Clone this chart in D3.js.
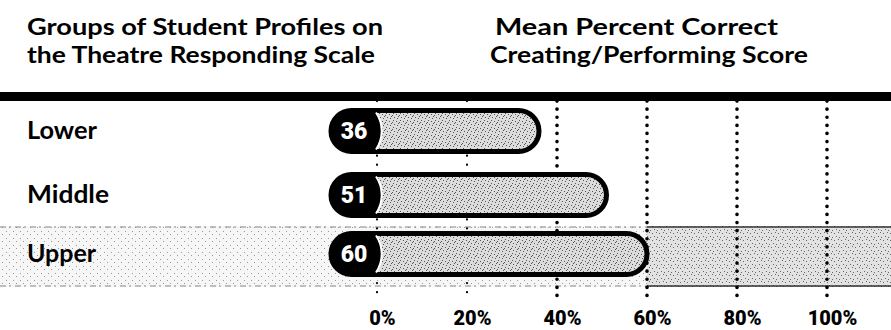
<!DOCTYPE html>
<html>
<head>
<meta charset="utf-8">
<script src="https://cdn.jsdelivr.net/npm/d3@7"></script>
<style>
  html, body { margin: 0; padding: 0; background: #fff; }
  svg { display: block; }
</style>
</head>
<body>
<svg id="chart" width="891" height="330"></svg>
<script>
const categories = ["Lower", "Middle", "Upper"];
const values = [36, 51, 60];
const tickValues = [0, 20, 40, 60, 80, 100];
const tickLabels = ["0%", "20%", "40%", "60%", "80%", "100%"];
const titleLeft = ["Groups of Student Profiles on", "the Theatre Responding Scale"];
const titleRight = ["Mean Percent Correct", "Creating/Performing Score"];

const svg = d3.select("#chart");
const W = 891, H = 330;
const FONT = "Lato, 'Open Sans', sans-serif";

const x = d3.scaleLinear().domain([0, 100]).range([377, 827]);
const y = d3.scaleOrdinal().domain(categories).range([131, 195, 254]);
const barH = 41;
const r = barH / 2;
const capLeft = x(0) - 46;

// texture patterns
const defs = svg.append("defs");
function stipple(id, bg, dots, col) {
  const p = defs.append("pattern").attr("id", id).attr("patternUnits", "userSpaceOnUse")
    .attr("width", 7).attr("height", 7);
  p.append("rect").attr("width", 7).attr("height", 7).attr("fill", bg);
  dots.forEach(d => p.append("rect").attr("x", d[0]).attr("y", d[1]).attr("width", 1).attr("height", 1).attr("fill", col));
}
stipple("barTex", "#dcdcdc", [[1,1],[4,2],[2,5],[6,4],[0,3],[5,6]], "#555");
stipple("bandDark", "#e2e2e2", [[1,2],[5,1],[3,5],[6,6]], "#666");
stipple("bandLight", "#f6f6f6", [[2,3],[6,0]], "#999");

// Upper band background
const bandTop = 226, bandBot = 287;
svg.append("rect").attr("x", 0).attr("y", bandTop).attr("width", W).attr("height", bandBot - bandTop)
  .attr("fill", "url(#bandLight)");
svg.append("rect").attr("x", x(60)).attr("y", bandTop).attr("width", W - x(60)).attr("height", bandBot - bandTop)
  .attr("fill", "url(#bandDark)");
[bandTop + 1, bandBot - 1].forEach(yy => {
  svg.append("line").attr("x1", 0).attr("x2", x(60)).attr("y1", yy).attr("y2", yy)
    .attr("stroke", "#888").attr("stroke-width", 1.2).attr("stroke-dasharray", "6,3,2,4");
  svg.append("line").attr("x1", x(60)).attr("x2", W).attr("y1", yy).attr("y2", yy)
    .attr("stroke", "#333").attr("stroke-width", 1.5);
});

// gridlines
svg.append("g").selectAll("line").data(tickValues).join("line")
  .attr("x1", d => x(d)).attr("x2", d => x(d))
  .attr("y1", 101).attr("y2", 301)
  .attr("stroke", "#000")
  .attr("stroke-width", d => d < 40 ? 2.2 : 3.6)
  .attr("stroke-linecap", "round")
  .attr("stroke-dasharray", d => d < 40 ? "0.1,9" : "0.1,8");

// top rule
svg.append("rect").attr("x", 0).attr("y", 92).attr("width", W).attr("height", 9).attr("fill", "#000");

// bars
const bars = svg.append("g").selectAll("g").data(categories).join("g");
bars.append("rect")
  .attr("x", capLeft)
  .attr("y", d => y(d) - barH / 2)
  .attr("width", (d, i) => x(values[i]) - capLeft)
  .attr("height", barH)
  .attr("rx", r).attr("ry", r)
  .attr("fill", "url(#barTex)")
  .attr("stroke", "#000").attr("stroke-width", 5);

// black cap with convex right edge
bars.append("path")
  .attr("d", d => {
    const cy = y(d), t = cy - r, b = cy + r;
    const xe = capLeft + 42;
    return `M${capLeft + r},${t} A${r},${r} 0 0 0 ${capLeft + r},${b} L${xe},${b} A${r * 1.6},${r * 1.6} 0 0 0 ${xe},${t} Z`;
  })
  .attr("fill", "#000").attr("stroke", "#000").attr("stroke-width", 2);
bars.append("path")
  .attr("d", d => {
    const cy = y(d), t = cy - r + 2, b = cy + r - 2;
    const xe = capLeft + 45;
    return `M${xe},${b} A${r * 1.6},${r * 1.6} 0 0 0 ${xe},${t}`;
  })
  .attr("fill", "none").attr("stroke", "#fff").attr("stroke-width", 2);

bars.append("text")
  .attr("x", capLeft + 23)
  .attr("y", d => y(d) + 8)
  .attr("text-anchor", "middle")
  .attr("fill", "#fff")
  .attr("font-family", "Roboto, 'Open Sans', sans-serif").attr("font-weight", 900).attr("font-size", 23)
  .text((d, i) => values[i]);

// row labels
svg.append("g").selectAll("text").data(categories).join("text")
  .attr("x", 27)
  .attr("y", d => y(d) + 8)
  .attr("font-family", FONT).attr("font-weight", 700).attr("font-size", 24)
  .attr("fill", "#000")
  .text(d => d)
  .each(function(d) {
    const w = { Lower: 70, Middle: 82, Upper: 69 }[d];
    d3.select(this).attr("textLength", w).attr("lengthAdjust", "spacingAndGlyphs");
  });

// titles
const tl = svg.append("g").attr("font-family", FONT).attr("font-weight", 700).attr("font-size", 23).attr("fill", "#000");
tl.append("text").attr("x", 27).attr("y", 35).text(titleLeft[0])
  .attr("textLength", 356).attr("lengthAdjust", "spacingAndGlyphs");
tl.append("text").attr("x", 27).attr("y", 63).text(titleLeft[1])
  .attr("textLength", 348).attr("lengthAdjust", "spacingAndGlyphs");
tl.append("text").attr("x", 495).attr("y", 35).text(titleRight[0])
  .attr("textLength", 283).attr("lengthAdjust", "spacingAndGlyphs");
tl.append("text").attr("x", 490).attr("y", 63).text(titleRight[1])
  .attr("textLength", 318).attr("lengthAdjust", "spacingAndGlyphs");

// x axis labels
const axis = d3.axisBottom(x).tickValues(tickValues).tickFormat((d, i) => tickLabels[i]).tickSize(0).tickPadding(0);
const ag = svg.append("g").attr("transform", "translate(0,310)").call(axis);
ag.select(".domain").remove();
ag.selectAll("text")
  .attr("font-family", "Roboto, 'Open Sans', sans-serif")
  .attr("font-weight", 900)
  .attr("font-size", 20)
  .attr("fill", "#000")
  .attr("dx", 5)
  .attr("dy", 15);
</script>
</body>
</html>
